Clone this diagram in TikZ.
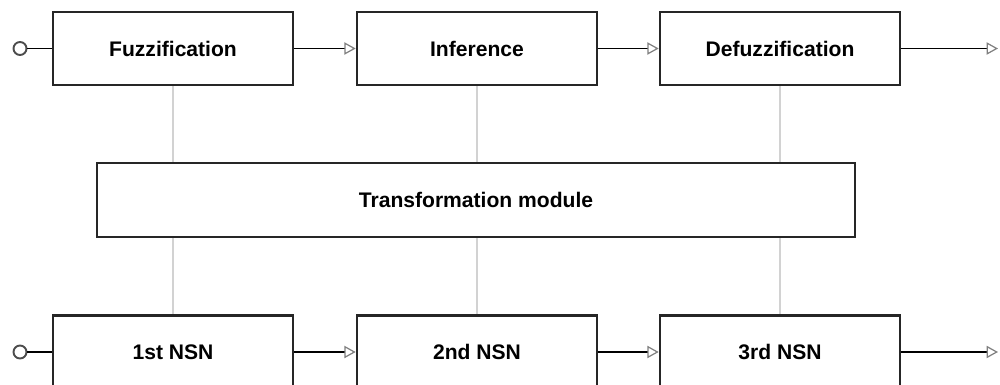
\documentclass[tikz,border=0pt]{standalone}
\usepackage{fontspec}
\setmainfont{Liberation Sans}
\usetikzlibrary{arrows.meta}
\tikzset{
  block/.style={draw=black!85,line width=1.5pt,fill=white,minimum width=4.8cm,minimum height=1.46cm,font=\fontsize{12}{14}\selectfont\bfseries},
  flow/.style={line width=1.1pt,-{Triangle[open,length=6.5pt,width=7pt,color=gray,line width=0.7pt]}},
  tie/.style={gray!35,line width=0.6pt},
  port/.style={circle,draw=black!70,line width=1.1pt,inner sep=0pt,minimum size=0.26cm}
}
\begin{document}
\begin{tikzpicture}[x=0.02cm,y=-0.02cm]
\useasboundingbox (0,0) rectangle (1000,385);
\node[block] (fuzz) at (173,48.5) {Fuzzification};
\node[block] (infer) at (477,48.5) {Inference};
\node[block] (defuzz) at (780,48.5) {Defuzzification};
\node[block,minimum width=15.16cm,minimum height=1.48cm] (trans) at (476,200) {Transformation module};
\node[block] (nsna) at (173,352) {1st NSN};
\node[block] (nsnb) at (477,352) {2nd NSN};
\node[block] (nsnc) at (780,352) {3rd NSN};
\node[port] (inA) at (20,48.5) {};
\node[port] (inB) at (20,352) {};
\coordinate (outA) at (998,48.5);
\coordinate (outB) at (998,352);
\draw[line width=1.1pt] (inA) -- (fuzz);
\draw[line width=1.1pt] (inB) -- (nsna);
\draw[flow] (fuzz) -- (infer);
\draw[flow] (infer) -- (defuzz);
\draw[flow] (defuzz) -- (outA);
\draw[flow] (nsna) -- (nsnb);
\draw[flow] (nsnb) -- (nsnc);
\draw[flow] (nsnc) -- (outB);
\foreach \u/\l in {fuzz/nsna,infer/nsnb,defuzz/nsnc}{
  \draw[tie] (\u.south) -- (\u |- trans.north);
  \draw[tie] (trans.south -| \l) -- (\l.north);
}
\end{tikzpicture}
\end{document}
